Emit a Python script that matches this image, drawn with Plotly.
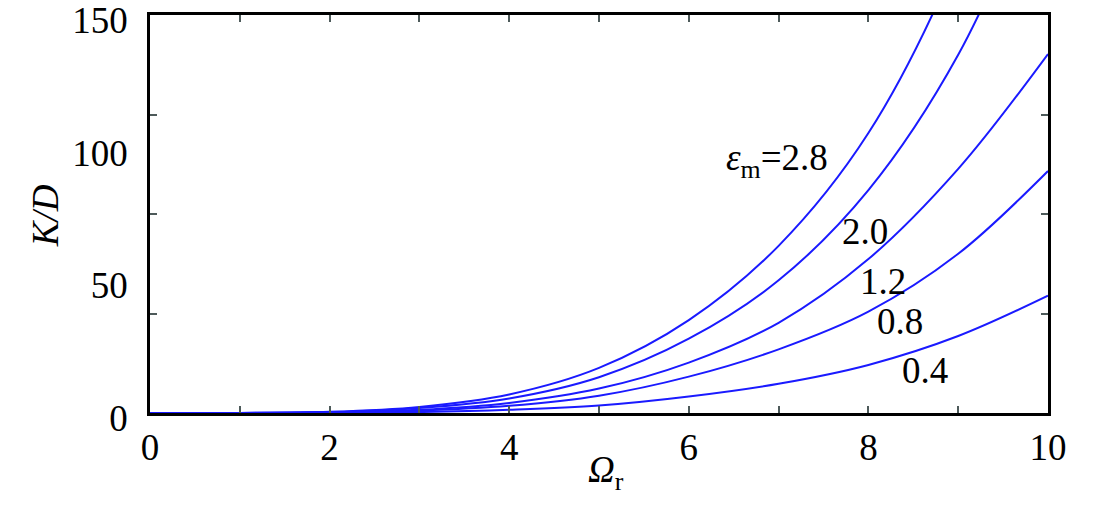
import plotly.graph_objects as go

# Data
omega_r = [0, 1, 2, 3, 4, 5, 6, 7, 8, 9, 10]
kd_28 = [0, 0.03, 0.45, 2.3, 7, 17, 35, 63, 105.5, 172, 270]
kd_20 = [0, 0.025, 0.37, 1.9, 5.5, 13.5, 28, 50, 84, 135, 210]
kd_12 = [0, 0.016, 0.24, 1.2, 3.8, 9.2, 19, 34, 58, 92, 135.3]
kd_08 = [0, 0.011, 0.17, 0.85, 2.7, 6.5, 13.7, 24, 38.2, 60, 91.2]
kd_04 = [0, 0.005, 0.07, 0.35, 1.2, 2.8, 6.2, 11, 18.1, 29, 44.2]

series = [kd_28, kd_20, kd_12, kd_08, kd_04]
labels = ["<i>ε</i><sub>m</sub>=2.8", "2.0", "1.2", "0.8", "0.4"]
label_x = [7.57, 7.96, 8.16, 8.35, 8.63]
label_y = [95.0, 68.4, 49.5, 34.4, 16.2]
label_anchor = ["right", "center", "center", "center", "center"]

x_ticks = [0, 2, 4, 6, 8, 10]
y_ticks = [0, 50, 100, 150]
y_minor = [37.5, 75, 112.5]
x_minor = [1, 3, 5, 7, 9]

FONT = "Liberation Serif"
LINE = "#1a1aff"
TICKC = "#4d5a5a"
FS = 37

fig = go.Figure()
for s in series:
    fig.add_trace(go.Scatter(x=omega_r, y=s, mode="lines",
                             line=dict(color=LINE, width=2, shape="spline", smoothing=1),
                             showlegend=False, hoverinfo="skip"))

for t, xx, yy, anc in zip(labels, label_x, label_y, label_anchor):
    fig.add_annotation(x=xx, y=yy, xref="x", yref="y", text=t, showarrow=False,
                       xanchor=anc, yanchor="middle",
                       font=dict(family=FONT, size=FS, color="black"))

fig.add_annotation(x=-0.117, y=0.497, xref="paper", yref="paper", text="<i>K/D</i>",
                   textangle=-90, showarrow=False, xanchor="center", yanchor="middle",
                   font=dict(family=FONT, size=FS, color="black"))
fig.add_annotation(x=0.508, y=-0.15, xref="paper", yref="paper", text="<i>Ω</i><sub>r</sub>",
                   showarrow=False, xanchor="center", yanchor="middle",
                   font=dict(family=FONT, size=FS, color="black"))

# page body has an 8px default margin, so margins are offset by 8px
fig.update_layout(
    width=1103, height=507,
    margin=dict(l=142, r=63, t=7, b=102),
    paper_bgcolor="white", plot_bgcolor="white",
    font=dict(family=FONT, size=FS, color="black"),
    xaxis=dict(range=[0, 10], tickvals=x_ticks, ticks="inside", ticklen=7, tickcolor=TICKC,
               tickwidth=1.5, showgrid=False, zeroline=False, showline=True, linecolor="black",
               linewidth=2.5, mirror="ticks", ticklabelstandoff=0, automargin=False,
               ticklabeloverflow="allow",
               minor=dict(tickvals=x_minor, ticks="inside", ticklen=7, tickcolor=TICKC, tickwidth=1.5,
                          showgrid=False)),
    yaxis=dict(range=[0, 150], tickvals=y_ticks, ticks="", showgrid=False, zeroline=False,
               showline=True, linecolor="black", linewidth=2.5, mirror="ticks", ticklabelstandoff=12,
               automargin=False, ticklabeloverflow="allow", ticklabelshift=5,
               minor=dict(tickvals=y_minor, ticks="inside", ticklen=7, tickcolor=TICKC, tickwidth=1.5,
                          showgrid=False)),
)

fig.write_html("out.html")
